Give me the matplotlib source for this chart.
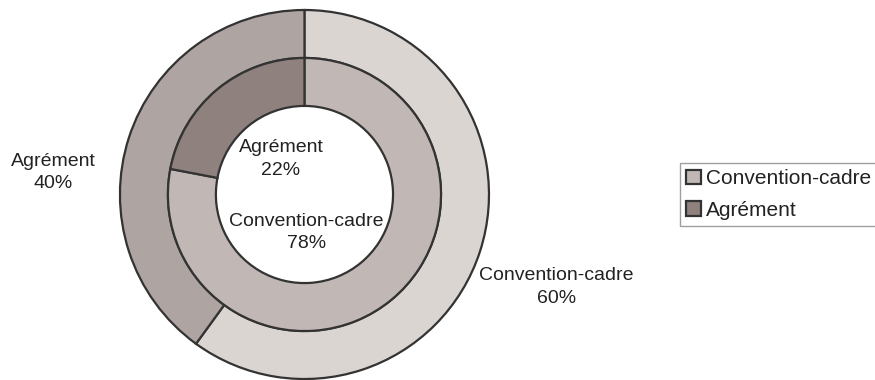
import matplotlib.pyplot as plt
from matplotlib.patches import Patch

plt.rcParams['font.family'] = ['Liberation Sans', 'DejaVu Sans']

categories = ['Convention-cadre', 'Agrément']
outer_pct = [60, 40]
inner_pct = [78, 22]

outer_colors = ['#dbd5d2', '#aea4a1']
inner_colors = ['#c1b8b5', '#8f817d']
edge = '#333333'

fig = plt.figure(figsize=(8.75, 3.8), dpi=100)
ax = fig.add_axes([0, 0, 1, 1])

ax.pie(outer_pct, radius=1.0, colors=outer_colors, startangle=90, counterclock=False,
       wedgeprops=dict(width=0.26, edgecolor=edge, linewidth=1.6))
ax.pie(inner_pct, radius=0.74, colors=inner_colors, startangle=90, counterclock=False,
       wedgeprops=dict(width=0.26, edgecolor=edge, linewidth=1.6))

# 1 data unit = outer radius
ax.set_xlim(-1.650, 3.092)
ax.set_ylim(-1.0054, 1.0542)
ax.set_aspect('auto')
ax.axis('off')

txt = dict(ha='center', va='center', fontsize=14, color='#222222', linespacing=1.45)
ax.text(-1.363, 0.119, f'{categories[1]}\n{outer_pct[1]}%', **txt)
ax.text(1.366, -0.501, f'{categories[0]}\n{outer_pct[0]}%', **txt)
ax.text(-0.127, 0.192, f'{categories[1]}\n{inner_pct[1]}%', **txt)
ax.text(0.01, -0.206, f'{categories[0]}\n{inner_pct[0]}%', **txt)

handles = [Patch(facecolor=c, edgecolor=edge, linewidth=1.6) for c in inner_colors]
leg = fig.legend(handles, categories, loc='upper left', bbox_to_anchor=(0.777, 0.571),
                 borderaxespad=0, fontsize=15, frameon=True, fancybox=False,
                 edgecolor='#888888', handlelength=0.7, handleheight=0.7,
                 handletextpad=0.25, borderpad=0.3, labelspacing=0.6)
leg.get_frame().set_linewidth(1.0)
for t in leg.get_texts():
    t.set_color('#222222')

fig.savefig('out.png', dpi=100)
